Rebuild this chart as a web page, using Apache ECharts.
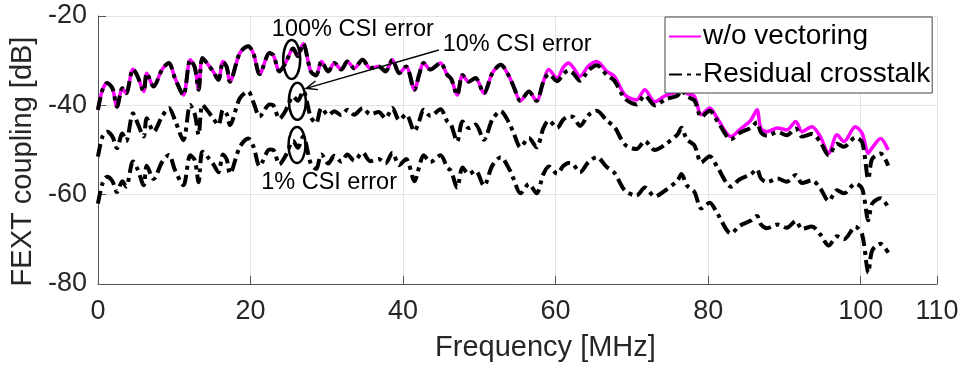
<!DOCTYPE html>
<html>
<head>
<meta charset="utf-8">
<script src="https://cdn.jsdelivr.net/npm/echarts@6/dist/echarts.min.js"></script>
<style>
  html, body { margin: 0; padding: 0; background: #ffffff; }
  #chart { width: 962px; height: 369px; }
</style>
</head>
<body>
<div id="chart"></div>
<script>
// Frequency samples (MHz) shared by all curves
const freqMHz = [
  0.0, 0.6, 1.2, 1.9, 2.5, 3.2, 3.7, 4.6, 5.2, 6.0,
  6.4, 7.3, 8.4, 9.3, 10.1, 11.2, 12.1, 12.7, 13.2, 13.7,
  14.5, 15.1, 15.8, 16.4, 16.9, 17.3, 18.6, 19.7, 20.4, 21.2,
  22.5, 23.0, 23.8, 24.6, 25.6, 26.2, 26.9, 27.9, 28.6, 29.3,
  30.2, 31.0, 31.9, 32.7, 33.6, 34.7, 35.7, 36.8, 37.7, 38.6,
  39.5, 40.4, 41.5, 42.1, 42.7, 43.6, 44.9, 45.8, 46.3, 47.1,
  47.8, 48.6, 49.5, 50.6, 51.7, 52.8, 53.9, 54.5, 55.4, 56.5,
  57.5, 58.4, 59.1, 60.2, 61.0, 61.7, 62.3, 63.2, 64.3, 65.4,
  66.7, 67.7, 69.1, 70.6, 71.7, 73.0, 74.5, 76.0, 76.5, 77.2,
  78.2, 79.1, 80.2, 81.2, 83.0, 84.1, 85.6, 86.4, 86.9, 87.7,
  89.1, 90.3, 91.5, 92.3, 93.6, 94.7, 95.8, 96.9, 97.8, 99.3,
  100.2, 101.0, 101.5, 102.6, 103.6
];

// FEXT coupling without vectoring (dB)
const withoutVectoring = [
  -41.0, -36.5, -35.0, -36.2, -40.3, -36.2, -37.3, -31.9, -33.5, -36.9,
  -32.8, -35.8, -32.0, -30.5, -33.9, -37.7, -29.8, -31.5, -36.5, -29.4,
  -31.0, -32.4, -34.3, -30.2, -31.5, -34.7, -28.3, -26.8, -28.5, -33.0,
  -28.3, -28.8, -32.4, -30.5, -27.3, -29.0, -26.2, -32.4, -33.3, -30.2,
  -32.4, -30.5, -32.0, -30.2, -31.7, -29.8, -31.7, -31.3, -32.4, -29.8,
  -32.8, -31.3, -36.5, -33.2, -30.5, -32.0, -30.5, -33.2, -34.0, -37.7,
  -33.2, -34.7, -33.9, -37.3, -32.8, -30.9, -33.5, -35.8, -39.0, -36.9,
  -39.0, -34.7, -32.0, -33.9, -31.5, -30.5, -31.5, -33.5, -31.2, -30.2,
  -32.4, -33.5, -37.7, -38.8, -36.5, -39.2, -37.7, -37.0, -36.8, -37.3,
  -38.0, -42.1, -40.6, -42.9, -47.0, -45.5, -43.3, -41.0, -45.1, -45.9,
  -45.1, -45.5, -43.6, -45.9, -44.8, -47.0, -50.7, -46.6, -48.1, -44.8,
  -46.3, -50.7, -49.5, -47.4, -50.0
];

// Residual crosstalk after vectoring, 100% CSI error (dB)
const residual100 = [
  -41.0, -36.5, -35.0, -36.2, -40.3, -36.2, -37.3, -31.9, -33.5, -36.9,
  -32.8, -35.8, -32.0, -30.5, -33.9, -37.7, -29.8, -31.5, -36.5, -29.4,
  -31.0, -32.4, -34.3, -30.2, -31.5, -34.7, -28.3, -26.8, -28.5, -33.0,
  -28.3, -28.8, -32.4, -30.5, -27.3, -29.0, -26.2, -32.4, -33.3, -30.2,
  -32.4, -30.5, -32.0, -30.2, -31.7, -29.8, -31.7, -31.3, -32.4, -29.8,
  -32.8, -31.3, -36.5, -33.2, -30.5, -32.0, -30.5, -33.2, -34.0, -37.7,
  -33.2, -34.7, -33.9, -37.3, -32.8, -30.9, -33.5, -35.8, -39.0, -36.9,
  -39.0, -34.7, -33.0, -34.6, -33.0, -32.2, -32.8, -34.5, -32.2, -31.0,
  -33.2, -34.5, -38.5, -39.8, -37.8, -40.0, -38.6, -37.8, -36.6, -38.0,
  -38.9, -42.6, -41.2, -43.5, -47.6, -46.2, -45.0, -43.8, -46.0, -46.8,
  -46.0, -46.7, -45.2, -47.0, -46.4, -48.2, -51.2, -48.6, -49.3, -47.2,
  -48.3, -56.5, -52.0, -50.8, -53.5
];

// Residual crosstalk, 10% CSI error (dB)
const residual10 = [
  -51.5, -47.0, -45.9, -47.0, -49.6, -46.3, -48.0, -41.8, -44.0, -47.0,
  -42.9, -45.9, -42.5, -40.6, -43.3, -47.8, -39.9, -42.0, -46.6, -39.9,
  -41.5, -42.9, -44.4, -41.0, -42.0, -44.4, -38.4, -36.9, -39.4, -42.5,
  -39.8, -40.0, -43.0, -41.2, -38.0, -39.0, -36.8, -42.6, -44.0, -40.6,
  -42.2, -41.3, -42.2, -41.0, -42.1, -40.6, -42.0, -41.5, -42.9, -40.6,
  -43.3, -42.0, -45.8, -43.6, -41.0, -42.4, -40.9, -43.6, -44.4, -48.1,
  -43.6, -45.1, -44.3, -47.7, -43.2, -41.3, -43.9, -46.2, -49.4, -47.3,
  -49.4, -45.1, -43.4, -45.0, -43.2, -42.5, -42.6, -44.6, -42.2, -41.2,
  -43.4, -44.8, -48.8, -49.8, -48.0, -50.0, -48.6, -46.5, -45.0, -47.6,
  -49.0, -52.8, -51.4, -53.8, -58.2, -56.6, -55.4, -54.3, -56.3, -57.2,
  -56.4, -57.1, -55.6, -57.4, -56.8, -58.6, -61.4, -59.0, -59.7, -57.5,
  -58.7, -65.7, -62.0, -60.8, -62.8
];

// Residual crosstalk, 1% CSI error (dB)
const residual1 = [
  -62.0, -57.5, -56.0, -57.0, -59.4, -57.0, -58.2, -52.6, -54.3, -57.9,
  -53.5, -56.5, -52.7, -51.1, -54.5, -57.9, -51.2, -52.3, -57.2, -50.4,
  -51.8, -53.1, -55.0, -51.0, -52.2, -55.3, -49.3, -47.4, -49.3, -53.6,
  -49.9, -50.0, -53.2, -51.3, -48.0, -49.5, -47.0, -53.0, -54.2, -51.0,
  -53.0, -51.3, -52.6, -51.0, -52.4, -50.6, -52.5, -52.0, -53.0, -50.6,
  -53.4, -52.0, -57.0, -53.9, -51.2, -52.7, -51.2, -53.9, -54.7, -58.4,
  -53.9, -55.4, -54.6, -58.0, -53.5, -51.6, -54.2, -56.5, -59.7, -57.6,
  -59.7, -55.4, -53.7, -55.3, -53.6, -52.9, -53.2, -55.0, -52.7, -51.6,
  -53.8, -55.1, -59.1, -60.2, -58.4, -60.4, -58.9, -56.8, -55.4, -57.9,
  -59.4, -63.1, -61.8, -64.2, -68.7, -67.0, -65.8, -64.8, -66.6, -67.5,
  -66.7, -67.4, -65.9, -67.7, -67.1, -68.9, -71.4, -69.3, -70.0, -67.2,
  -69.0, -77.5, -72.5, -71.0, -73.0
];

// Axis ranges: [min, max, tick step]
const xTickRange = [0, 110, 20];
const yTickRange = [-80, -20, 20];

const legendNames = ['w/o vectoring', 'Residual crosstalk'];
const annotationTexts = ['100% CSI error', '10% CSI error', '1% CSI error'];

const FONT = '"Liberation Sans", Arial, Helvetica, sans-serif';
const AXIS_TEXT = '#262626';

const pairs = vals => freqMHz.map((f, i) => [f, vals[i]]);

const dashDot = [13, 5, 4, 5];

function residualSeries(vals) {
  return {
    name: legendNames[1],
    type: 'line',
    data: pairs(vals),
    symbol: 'none',
    smooth: 0.3,
    itemStyle: { color: '#000000' },
    lineStyle: { color: '#000000', width: 4, type: dashDot, cap: 'butt' },
    z: 3
  };
}

const option = {
  animation: false,
  backgroundColor: '#ffffff',
  grid: { left: 94, right: 25, top: 16, bottom: 85, containLabel: false },
  legend: {
    data: legendNames,
    orient: 'vertical',
    left: 665,
    top: 17,
    padding: [2, 2, 1, 3],
    itemGap: 3,
    itemWidth: 32,
    itemHeight: 14,
    backgroundColor: '#ffffff',
    borderColor: '#444444',
    borderWidth: 1,
    borderRadius: 0,
    itemStyle: { opacity: 0 },
    textStyle: { fontFamily: FONT, fontSize: 28, color: '#000000', lineHeight: 35, padding: [0, 0, 0, -3] }
  },
  xAxis: {
    type: 'value',
    min: xTickRange[0],
    max: xTickRange[1],
    interval: xTickRange[2],
    name: 'Frequency [MHz]',
    nameLocation: 'middle',
    nameGap: 49,
    nameTextStyle: { fontFamily: FONT, fontSize: 29, color: AXIS_TEXT, padding: [0, 0, 0, 56] },
    axisLine: { show: true, onZero: false, lineStyle: { color: '#555555', width: 1 } },
    axisTick: { show: true, inside: true, length: 8, lineStyle: { color: '#555555', width: 1 } },
    axisLabel: { fontFamily: FONT, fontSize: 27, color: AXIS_TEXT, margin: 14 },
    splitLine: { show: true, lineStyle: { color: '#e3e3e3', width: 1 } }
  },
  yAxis: {
    type: 'value',
    min: yTickRange[0],
    max: yTickRange[1],
    interval: yTickRange[2],
    name: 'FEXT coupling [dB]',
    nameLocation: 'middle',
    nameGap: 53,
    nameTextStyle: { fontFamily: FONT, fontSize: 29, color: AXIS_TEXT, padding: [0, 23, 0, 0] },
    axisLine: { show: true, onZero: false, lineStyle: { color: '#555555', width: 1 } },
    axisTick: { show: true, inside: true, length: 8, lineStyle: { color: '#555555', width: 1 } },
    axisLabel: { fontFamily: FONT, fontSize: 27, color: AXIS_TEXT, margin: 11, padding: [8, 0, 0, 0] },
    splitLine: { show: true, lineStyle: { color: '#e3e3e3', width: 1 } }
  },
  series: [
    {
      name: legendNames[0],
      type: 'line',
      data: pairs(withoutVectoring),
      symbol: 'none',
      smooth: 0.3,
      itemStyle: { color: '#ff00ff' },
      lineStyle: { color: '#ff00ff', width: 3.5 },
      z: 2
    },
    residualSeries(residual100),
    residualSeries(residual10),
    residualSeries(residual1)
  ]
};

const chart = echarts.init(document.getElementById('chart'), null, { renderer: 'canvas' });
chart.setOption(option);

// Annotations placed in data coordinates
const toPx = p => chart.convertToPixel({ xAxisIndex: 0, yAxisIndex: 0 }, p);

const ellipseMarks = [
  { at: [25.4, -29.75], rx: 8.5, ry: 19.5 },
  { at: [26.15, -39.1], rx: 8.5, ry: 18.5 },
  { at: [26.1, -48.9], rx: 8.5, ry: 18 }
];
const labelMarks = [
  { text: annotationTexts[0], at: [22.8, -23.1] },
  { text: annotationTexts[1], at: [45.2, -26.4] },
  { text: annotationTexts[2], at: [21.4, -57.3] }
];
const arrowFrom = toPx([44.7, -27.6]);
const arrowTo = toPx([27.3, -36.2]);

const graphics = [];
ellipseMarks.forEach(e => {
  const c = toPx(e.at);
  graphics.push({
    type: 'ellipse',
    shape: { cx: c[0], cy: c[1], rx: e.rx, ry: e.ry },
    style: { fill: null, stroke: '#000000', lineWidth: 2.5 },
    z: 10
  });
});
labelMarks.forEach(l => {
  const p = toPx(l.at);
  graphics.push({
    type: 'text',
    x: p[0], y: p[1],
    style: {
      text: l.text, fill: '#000000', font: '23.5px ' + FONT,
      textAlign: 'left', textVerticalAlign: 'middle'
    },
    z: 10
  });
});

// Arrow from the 10% label to its ellipse
const dx = arrowTo[0] - arrowFrom[0];
const dy = arrowTo[1] - arrowFrom[1];
const len = Math.hypot(dx, dy);
const ux = dx / len, uy = dy / len;
const headLen = 11, headHalf = 4.5;
const bx = arrowTo[0] - ux * headLen, by = arrowTo[1] - uy * headLen;
graphics.push({
  type: 'line',
  shape: { x1: arrowFrom[0], y1: arrowFrom[1], x2: arrowTo[0], y2: arrowTo[1] },
  style: { stroke: '#000000', lineWidth: 1.5 },
  z: 10
});
graphics.push({
  type: 'polyline',
  shape: { points: [[bx - uy * headHalf, by + ux * headHalf], arrowTo, [bx + uy * headHalf, by - ux * headHalf]] },
  style: { stroke: '#000000', lineWidth: 1.5, fill: null },
  z: 10
});

chart.setOption({ graphic: graphics });
</script>
</body>
</html>
